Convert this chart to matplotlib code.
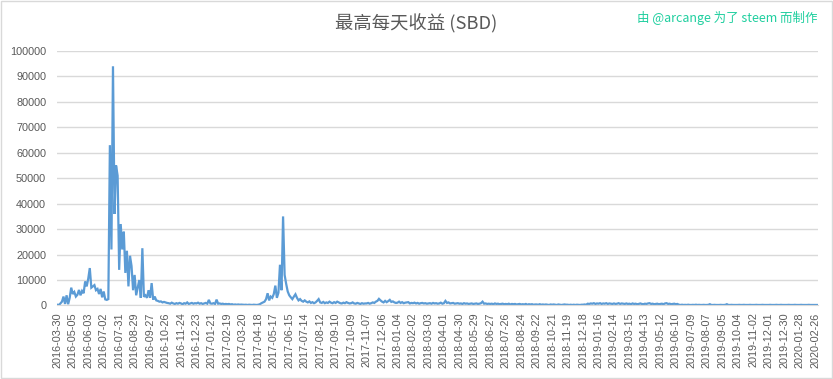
import numpy as np
import matplotlib
matplotlib.use('Agg')
import matplotlib.pyplot as plt
from matplotlib.patches import Rectangle

# tick labels, one every 29 days of data
tick_labels = [
    '2016-03-30', '2016-05-05', '2016-06-03', '2016-07-02', '2016-07-31',
    '2016-08-29', '2016-09-27', '2016-10-26', '2016-11-24', '2016-12-23',
    '2017-01-21', '2017-02-19', '2017-03-20', '2017-04-18', '2017-05-17',
    '2017-06-15', '2017-07-14', '2017-08-12', '2017-09-10', '2017-10-09',
    '2017-11-07', '2017-12-06', '2018-01-04', '2018-02-02', '2018-03-03',
    '2018-04-01', '2018-04-30', '2018-05-29', '2018-06-27', '2018-07-26',
    '2018-08-24', '2018-09-22', '2018-10-21', '2018-11-19', '2018-12-18',
    '2019-01-16', '2019-02-14', '2019-03-15', '2019-04-13', '2019-05-12',
    '2019-06-10', '2019-07-09', '2019-08-07', '2019-09-05', '2019-10-04',
    '2019-11-02', '2019-12-01', '2019-12-30', '2020-01-28', '2020-02-26',
]
days_per_tick = 29
samples_per_tick = 10

# daily max payout (SBD), 10 samples per tick interval
payout = [
    300, 200, 800, 1500, 3500, 600, 4000, 500, 3000, 7000,
    4500, 5300, 3500, 4200, 6100, 4000, 5700, 4800, 9400, 7500,
    10500, 14700, 7000, 7500, 8000, 6000, 6500, 4500, 6500, 3200,
    5500, 2400, 2200, 2500, 63000, 22000, 94000, 36000, 55000, 51000,
    14000, 32000, 22000, 29000, 12800, 21500, 7500, 19500, 15500, 6000,
    12000, 4000, 7000, 10000, 3000, 22500, 3400, 4000, 3000, 6000,
    3000, 8800, 2300, 3500, 2000, 1800, 1500, 1600, 1200, 1400,
    1200, 1000, 900, 700, 1100, 800, 600, 900, 700, 1000,
    800, 500, 900, 700, 1200, 600, 800, 1000, 700, 900,
    800, 1100, 700, 900, 600, 800, 1000, 700, 2200, 800,
    700, 900, 600, 2300, 700, 800, 600, 700, 500, 600,
    500, 600, 400, 500, 300, 400, 300, 400, 300, 350,
    300, 250, 300, 200, 300, 250, 200, 300, 250, 200,
    300, 500, 900, 1200, 1500, 2500, 4800, 2000, 3500, 3000,
    4500, 7800, 3000, 5000, 16000, 6000, 35000, 12000, 8500, 5500,
    4000, 3200, 2500, 3500, 4400, 3000, 2000, 2500, 1800, 1500,
    2000, 1500, 1200, 1600, 1000, 1300, 900, 1200, 1800, 2500,
    1200, 1000, 1400, 900, 1200, 1000, 1500, 1100, 900, 1300,
    1000, 1500, 1200, 900, 800, 1100, 900, 1300, 1000, 800,
    900, 1200, 800, 700, 1000, 800, 600, 900, 700, 800,
    800, 1000, 700, 900, 1200, 1000, 1500, 1800, 2600, 2000,
    1500, 1200, 1800, 1300, 1700, 2200, 1400, 1600, 1200, 1000,
    1100, 1500, 1000, 1300, 900, 1100, 1200, 1300, 800, 1000,
    900, 1100, 800, 1000, 700, 900, 1000, 800, 900, 700,
    800, 900, 700, 1000, 800, 900, 700, 800, 1100, 700,
    900, 1800, 1000, 1200, 800, 900, 1000, 700, 800, 900,
    700, 800, 600, 900, 700, 800, 600, 700, 800, 600,
    700, 800, 600, 700, 900, 1500, 700, 800, 600, 700,
    600, 700, 500, 800, 600, 700, 500, 600, 700, 500,
    600, 500, 700, 400, 600, 500, 600, 400, 500, 600,
    400, 500, 400, 600, 300, 500, 400, 500, 300, 400,
    400, 300, 500, 300, 400, 300, 400, 300, 200, 400,
    300, 400, 300, 200, 400, 300, 200, 300, 400, 300,
    300, 200, 300, 200, 300, 200, 300, 250, 200, 300,
    300, 400, 300, 700, 600, 800, 700, 900, 600, 800,
    700, 900, 600, 800, 700, 900, 600, 800, 700, 600,
    800, 600, 700, 900, 600, 800, 700, 600, 800, 600,
    700, 500, 800, 600, 700, 500, 600, 800, 600, 500,
    700, 600, 800, 900, 600, 700, 500, 600, 700, 500,
    600, 700, 500, 800, 900, 600, 700, 500, 600, 700,
    500, 600, 300, 200, 300, 200, 250, 200, 300, 200,
    200, 250, 200, 300, 200, 250, 200, 200, 250, 200,
    200, 250, 500, 200, 200, 250, 200, 200, 200, 250,
    200, 200, 250, 500, 200, 200, 250, 200, 200, 200,
    200, 250, 200, 200, 250, 200, 200, 200, 250, 200,
    200, 200, 250, 200, 200, 200, 250, 200, 200, 200,
    200, 250, 200, 200, 200, 250, 200, 200, 250, 200,
    200, 200, 200, 250, 200, 200, 200, 250, 200, 200,
    200, 250, 200, 200, 200, 200, 250, 200, 200, 200,
    200, 200, 200,
]

title = '最高每天收益 (SBD)'
credit = '由 @arcange 为了 steem 而制作'

cjk = ['Noto Sans CJK SC', 'DejaVu Sans']
grey = '#595959'

fig = plt.figure(figsize=(8.33, 3.79), dpi=100)
ax = fig.add_axes([0.0688, 0.194, 0.9128, 0.6714])

x = np.arange(len(payout)) * days_per_tick / samples_per_tick
ax.plot(x, payout, color='#5b9bd5', lw=1.6, solid_joinstyle='miter')

ax.set_xlim(0, 1426)
ax.set_ylim(0, 100000)
ax.set_yticks(np.arange(0, 100001, 10000))
ax.set_yticklabels([str(v) for v in range(0, 100001, 10000)])
ax.set_xticks(np.arange(len(tick_labels)) * days_per_tick)
ax.set_xticklabels(tick_labels, rotation=90)

for lab in ax.get_xticklabels() + ax.get_yticklabels():
    lab.set_family('Liberation Sans')
    lab.set_fontsize(7.8)
    lab.set_color(grey)

ax.tick_params(axis='both', length=0)
ax.tick_params(axis='x', pad=5)
ax.tick_params(axis='y', pad=8)
ax.grid(axis='y', color='#d9d9d9', lw=1)
ax.set_axisbelow(True)
for s in ['top', 'right', 'left']:
    ax.spines[s].set_visible(False)
ax.spines['bottom'].set_color('#d9d9d9')

fig.text(0.5, 0.938, title, ha='center', va='center', fontsize=13.2,
         color=grey, family=cjk)
fig.text(0.9816, 0.952, credit, ha='right', va='center', fontsize=9,
         color='#1fcf9f', family=cjk)

fig.patches.append(Rectangle((0.0015, 0.003), 0.997, 0.994, transform=fig.transFigure,
                             fill=False, ec='#d9d9d9', lw=1))

fig.savefig('out.png', dpi=100)
